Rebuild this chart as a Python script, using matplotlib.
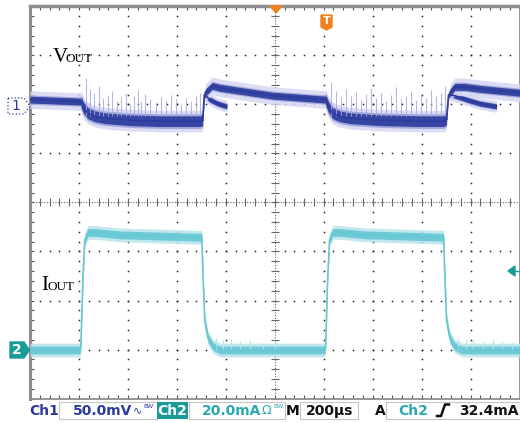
import numpy as np
import matplotlib.pyplot as plt
from matplotlib.patches import Polygon, Rectangle
from matplotlib.lines import Line2D

W, H = 520, 423

# Ch1: VOUT in mV relative to the "1" marker, time in µs (200 µs/div)
vout_pre_t = [0, 102, 208]
vout_pre_mv = [7, 6, 5]
vout_sag1_t = [208, 220, 237, 265, 306, 408, 531, 694, 706]
vout_sag1_mv = [5, -2, -7, -10, -12, -14, -15, -15, -14]
vout_fast1_t = [706, 712, 735, 767, 804]
vout_fast1_mv = [-14, 12, 7, 3, 0]
vout_slow1_t = [716, 745, 776, 857, 992, 1102, 1208]
vout_slow1_mv = [14, 21, 19, 16, 11, 9, 7]
vout_sag2_t = [1208, 1220, 1237, 1265, 1306, 1429, 1592, 1690, 1702]
vout_sag2_mv = [7, -1, -7, -10, -12, -14, -15, -15, -13]
vout_fast2_t = [1702, 1710, 1735, 1784, 1837, 1906]
vout_fast2_mv = [-13, 12, 11, 7, 3, 0]
vout_slow2_t = [1716, 1735, 1776, 1837, 1918, 2000]
vout_slow2_mv = [14, 20, 20, 18, 16, 14]

# ringing spikes on VOUT while the load is on
spike1_t = [229, 245, 261, 282, 298, 318, 335, 355, 371, 392, 408, 425, 441,
            453, 469, 490, 514, 535, 555, 576, 596, 616, 637, 657, 678, 694]
spike1_mv = [29, 18, 14, 21, 9, 12, 16, 6, 10, 14, 3, 11, 17,
             6, 13, 8, 4, 10, 6, 12, 8, 3, 9, 6, 11, 14]
spike2_t = [1229, 1249, 1269, 1290, 1310, 1331, 1351, 1371, 1392, 1412, 1433, 1453,
            1473, 1494, 1514, 1535, 1555, 1576, 1596, 1616, 1637, 1657, 1678, 1694]
spike2_mv = [25, 16, 10, 18, 11, 15, 7, 13, 19, 9, 14, 6,
             12, 20, 8, 11, 16, 7, 13, 9, 17, 11, 14, 21]

# Ch2: IOUT in mA, time in µs
iout_t = [0, 204, 208, 216, 224, 237, 265, 367, 531, 702, 706, 714, 727, 747, 776,
          1204, 1208, 1216, 1224, 1237, 1265, 1367, 1531, 1690, 1694, 1702, 1715, 1735, 1764, 2000]
iout_ma = [0, 0, 2, 29, 45, 48, 48, 47, 46.5, 46, 33, 12, 5, 1.5, 0,
           0, 2, 29, 45, 48, 48, 47, 46.5, 46, 33, 12, 5, 1.5, 0, 0]
grass_t = [760, 790, 820, 860, 900, 950, 1000, 1750, 1780, 1810, 1850, 1890, 1930, 1970]
grass_ma = [5, 4, 4.5, 3.5, 4, 3, 3.5, 5, 4.5, 4, 3.5, 4.5, 3.5, 3]

ch1_dark = '#2b3a9c'
ch1_mid = '#7f86cf'
ch1_light = '#d6d7f3'
ch2_main = '#66c7d5'
ch2_light = '#b8e4eb'
teal = '#1a9b98'
orange = '#f0821e'


def fx(px):
    return px / W


def fy(py):
    return 1 - py / H


fig = plt.figure(figsize=(5.2, 4.23), dpi=100)
ax = fig.add_axes([fx(30), fy(398.5), (519.5 - 30) / W, 392 / H])
ax.set_xlim(0, 2000)
ax.set_ylim(0, 8)
ax.set_xticks(np.arange(0, 2001, 200))
ax.set_xticks(np.arange(0, 2001, 40), minor=True)
ax.set_yticks(np.arange(0, 9, 1))
ax.set_yticks(np.arange(0, 8.01, 0.2), minor=True)
ax.tick_params(which='both', direction='in', length=3, width=0.8, color='#555555',
               top=True, right=True, labelbottom=False, labelleft=False)
for s in ax.spines.values():
    s.set_color('#8e8e8e')
    s.set_linewidth(1.3)
ax.spines['top'].set_linewidth(2.5)
ax.spines['left'].set_linewidth(2.2)

# graticule dots
dots_y = np.arange(0, 8.01, 0.2)
dots_x = np.arange(0, 2001, 40)
for xv in range(200, 2000, 200):
    if xv != 1000:
        ax.plot([xv] * len(dots_y), dots_y, ls='none', marker='s', ms=1.1, mew=0, color='#222222')
for yv in range(1, 8):
    if yv != 4:
        ax.plot(dots_x, [yv] * len(dots_x), ls='none', marker='s', ms=1.1, mew=0, color='#222222')
# centre cross with ticks
ax.axvline(1000, color='#666666', lw=0.8, ls=(0, (1, 1.5)))
ax.axhline(4, color='#666666', lw=0.8, ls=(0, (1, 1.5)))
ax.plot([1000] * len(dots_y), dots_y, ls='none', marker='_', ms=6, mew=0.8, color='#666666')
ax.plot(dots_x, [4] * len(dots_x), ls='none', marker='|', ms=6, mew=0.8, color='#666666')

# Ch1 axis: marker "1" at 5.96 div, 50 mV/div
ax_v = ax.twinx()
ax_v.set_ylim(-5.96 * 50, 2.04 * 50)
ax_v.axis('off')
# Ch2 axis: marker "2" at 0.99 div, 20 mA/div
ax_i = ax.twinx()
ax_i.set_ylim(-0.99 * 20, 7.01 * 20)
ax_i.axis('off')


def band(a, t, y, core, halo, dark, light, mid=None):
    t = np.asarray(t, float)
    y = np.asarray(y, float)
    a.fill_between(t, y - halo, y + halo, color=light, lw=0, alpha=0.85)
    if mid is not None:
        a.fill_between(t, y - core * 1.35, y + core * 1.35, color=mid, lw=0, alpha=0.6)
    a.fill_between(t, y - core, y + core, color=dark, lw=0, alpha=0.9)
    a.plot(t, y, color=dark, lw=1.2)


ax_v.vlines(spike1_t, -10, spike1_mv, color='#a4a7de', lw=0.8, alpha=0.8)
ax_v.vlines(spike2_t, -10, spike2_mv, color='#a4a7de', lw=0.8, alpha=0.8)
band(ax_v, vout_pre_t, vout_pre_mv, 3.5, 9, ch1_dark, ch1_light, ch1_mid)
band(ax_v, vout_sag1_t, vout_sag1_mv, 5.5, 11, ch1_dark, ch1_light, ch1_mid)
band(ax_v, vout_fast1_t, vout_fast1_mv, 2.5, 6, ch1_dark, ch1_light, ch1_mid)
band(ax_v, vout_slow1_t, vout_slow1_mv, 3.5, 9, ch1_dark, ch1_light, ch1_mid)
band(ax_v, vout_sag2_t, vout_sag2_mv, 5.5, 11, ch1_dark, ch1_light, ch1_mid)
band(ax_v, vout_fast2_t, vout_fast2_mv, 2.5, 6, ch1_dark, ch1_light, ch1_mid)
band(ax_v, vout_slow2_t, vout_slow2_mv, 3.5, 9, ch1_dark, ch1_light, ch1_mid)

ax_i.vlines(grass_t, 0, grass_ma, color=ch2_light, lw=0.8)
band(ax_i, iout_t, iout_ma, 1.6, 2.8, ch2_main, ch2_light)

# trace labels
ax_i.text(94, 6.86 * 20 - 0.99 * 20, 'V', fontsize=15, family='Liberation Serif', va='baseline')
ax_i.text(147, 6.86 * 20 - 0.99 * 20, 'OUT', fontsize=9.5, family='Liberation Serif', va='baseline')
ax_i.text(45, 2.21 * 20 - 0.99 * 20, 'I', fontsize=15, family='Liberation Serif', va='baseline')
ax_i.text(73, 2.21 * 20 - 0.99 * 20, 'OUT', fontsize=9.5, family='Liberation Serif', va='baseline')

# channel markers on the left
m1 = Polygon([(fx(8), fy(98)), (fx(24), fy(98)), (fx(30), fy(106)), (fx(24), fy(114)), (fx(8), fy(114))],
             closed=True, transform=fig.transFigure, facecolor='white', edgecolor=ch1_dark,
             lw=0.9, ls=':')
fig.add_artist(m1)
fig.text(fx(16), fy(106), '1', color=ch1_dark, fontsize=10, ha='center', va='center')
m2 = Polygon([(fx(10), fy(342)), (fx(24), fy(342)), (fx(29.5), fy(350)), (fx(24), fy(358)), (fx(10), fy(358))],
             closed=True, transform=fig.transFigure, facecolor=teal, edgecolor=teal)
fig.add_artist(m2)
fig.text(fx(17), fy(350), '2', color='white', fontsize=10, fontweight='bold', ha='center', va='center')

# trigger markers
fig.add_artist(Polygon([(fx(270), fy(6)), (fx(282), fy(6)), (fx(276), fy(13))], closed=True,
                       transform=fig.transFigure, color=orange))
fig.add_artist(Polygon([(fx(321), fy(15)), (fx(332), fy(15)), (fx(332), fy(27)), (fx(326.5), fy(30)),
                        (fx(321), fy(27))], closed=True, transform=fig.transFigure, color=orange))
fig.text(fx(326.5), fy(21.5), 'T', color='white', fontsize=8, fontweight='bold', ha='center', va='center')
fig.add_artist(Polygon([(fx(508), fy(271)), (fx(515), fy(266)), (fx(515), fy(276))], closed=True,
                       transform=fig.transFigure, color=teal))
fig.add_artist(Line2D([fx(514), fx(520)], [fy(271), fy(271)], transform=fig.transFigure, color=teal, lw=1))

# status bar
by = fy(410.5)
kw = dict(fontsize=10, fontweight='bold', va='center', family='DejaVu Sans')
for x0, x1 in [(59, 157), (189, 285), (300, 358), (386, 519.5)]:
    fig.add_artist(Rectangle((fx(x0), fy(419)), (x1 - x0) / W, 17 / H, transform=fig.transFigure,
                             fill=False, ec='#c4c4c4', lw=0.8))
fig.add_artist(Rectangle((fx(157), fy(419)), 31 / W, 17 / H, transform=fig.transFigure,
                         facecolor=teal, ec=teal, lw=0))
fig.text(fx(29), by, 'Ch1', color=ch1_dark, ha='left', **kw)
fig.text(fx(73), by, '50.0mV', color=ch1_dark, ha='left', **kw)
fig.text(fx(133), by, '\u223f', color=ch1_dark, ha='left', fontsize=8, va='center')
fig.text(fx(143), fy(406), 'BW', color=ch1_dark, ha='left', fontsize=4.5, va='center')
fig.text(fx(172.5), by, 'Ch2', color='white', ha='center', **kw)
fig.text(fx(202), by, '20.0mA', color='#2aa8b0', ha='left', **kw)
fig.text(fx(262), by, '\u03a9', color='#2aa8b0', ha='left', fontsize=9, va='center')
fig.text(fx(273), fy(406), 'BW', color='#2aa8b0', ha='left', fontsize=4.5, va='center')
fig.text(fx(286), by, 'M', color='#111111', ha='left', **kw)
fig.text(fx(306), by, '200\u00b5s', color='#111111', ha='left', **kw)
fig.text(fx(375), by, 'A', color='#111111', ha='left', **kw)
fig.text(fx(398), by, 'Ch2', color='#2aa8b0', ha='left', **kw)
fig.add_artist(Line2D([fx(437), fx(441), fx(445), fx(449)], [fy(416), fy(416), fy(404.5), fy(404.5)],
                      transform=fig.transFigure, color='#111111', lw=1.8))
fig.text(fx(519), by, '32.4mA', color='#111111', ha='right', **kw)

fig.savefig('out.png', dpi=100)
